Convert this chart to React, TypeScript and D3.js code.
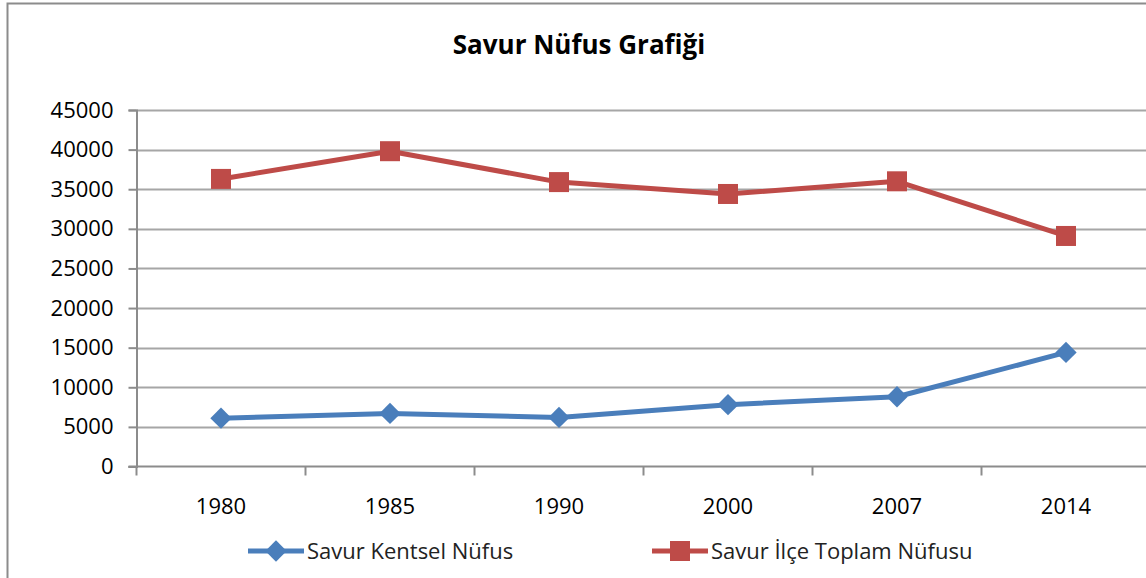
import React, { useEffect, useRef } from 'react';
import * as d3 from 'd3';

const YEARS = ['1980', '1985', '1990', '2000', '2007', '2014'];
const KENTSEL = [6100, 6700, 6200, 7800, 8800, 14400];
const ILCE_TOPLAM = [36300, 39800, 35900, 34400, 36000, 29100];
const Y_TICKS = [0, 5000, 10000, 15000, 20000, 25000, 30000, 35000, 40000, 45000];

const SERIES = [
  { name: 'Savur Kentsel Nüfus', values: KENTSEL, color: '#4a7ebb', marker: 'diamond' },
  { name: 'Savur İlçe Toplam Nüfusu', values: ILCE_TOPLAM, color: '#be4b48', marker: 'square' },
];

const FONT = '"Open Sans", "Liberation Sans", sans-serif';

const App: React.FC = () => {
  const svgRef = useRef<SVGSVGElement | null>(null);

  useEffect(() => {
    if (!svgRef.current) return;
    const width = 1146;
    const height = 578;

    const svg = d3.select(svgRef.current);
    svg.selectAll('*').remove();
    svg.attr('width', width).attr('height', height);

    // outer chart border (cropped at right / bottom like the original)
    svg.append('rect')
      .attr('x', 7.5).attr('y', 3.5)
      .attr('width', width + 20).attr('height', height + 20)
      .attr('fill', '#fff')
      .attr('stroke', '#8c8c8c')
      .attr('stroke-width', 2);

    const left = 136.5;
    const bandW = 169;
    const x = d3.scaleBand<string>().domain(YEARS).range([left, left + bandW * YEARS.length]);
    const y = d3.scaleLinear().domain([0, 45000]).range([466.5, 110]);

    // gridlines
    svg.append('g').selectAll('line')
      .data(Y_TICKS.filter(t => t > 0))
      .enter().append('line')
      .attr('x1', left).attr('x2', width)
      .attr('y1', d => Math.round(y(d)) + 0.5).attr('y2', d => Math.round(y(d)) + 0.5)
      .attr('stroke', '#a6a6a6').attr('stroke-width', 2);

    // y axis
    const yAxis = svg.append('g').attr('transform', `translate(${left},0)`)
      .call(d3.axisLeft(y).tickValues(Y_TICKS).tickSize(8).tickPadding(15).tickFormat(d3.format('d')));
    yAxis.select('.domain').attr('stroke', '#8c8c8c').attr('stroke-width', 2);
    yAxis.selectAll('.tick line').attr('stroke', '#8c8c8c').attr('stroke-width', 2);
    yAxis.selectAll('.tick text')
      .attr('font-family', FONT).attr('font-size', 22).attr('fill', '#000');

    // x axis
    const xAxisY = y(0);
    svg.append('line')
      .attr('x1', left - 8).attr('x2', width)
      .attr('y1', xAxisY).attr('y2', xAxisY)
      .attr('stroke', '#8c8c8c').attr('stroke-width', 2);
    svg.append('g').selectAll('line')
      .data(YEARS)
      .enter().append('line')
      .attr('x1', d => (x(d) as number)).attr('x2', d => (x(d) as number))
      .attr('y1', xAxisY).attr('y2', xAxisY + 9)
      .attr('stroke', '#8c8c8c').attr('stroke-width', 2);
    svg.append('g').selectAll('text')
      .data(YEARS)
      .enter().append('text')
      .attr('x', d => (x(d) as number) + x.bandwidth() / 2)
      .attr('y', 506)
      .attr('dy', '0.35em')
      .attr('text-anchor', 'middle')
      .attr('font-family', FONT).attr('font-size', 22).attr('fill', '#000')
      .text(d => d);

    const diamond = d3.symbol().type(d3.symbolDiamond2 ?? d3.symbolSquare2).size(290);

    const drawMarker = (g: d3.Selection<SVGGElement, unknown, null, undefined>, kind: string, cx: number, cy: number, color: string) => {
      if (kind === 'square') {
        g.append('rect')
          .attr('x', cx - 10).attr('y', cy - 10)
          .attr('width', 20).attr('height', 20)
          .attr('fill', color);
      } else {
        g.append('path')
          .attr('d', diamond() as string)
          .attr('transform', `translate(${cx},${cy})`)
          .attr('fill', color);
      }
    };

    const line = d3.line<number>()
      .x((_, i) => (x(YEARS[i]) as number) + x.bandwidth() / 2)
      .y(d => y(d));

    SERIES.forEach(s => {
      const g = svg.append('g');
      g.append('path')
        .attr('d', line(s.values) as string)
        .attr('fill', 'none')
        .attr('stroke', s.color)
        .attr('stroke-width', 5)
        .attr('stroke-linejoin', 'round');
      s.values.forEach((v, i) => {
        drawMarker(g as any, s.marker, (x(YEARS[i]) as number) + x.bandwidth() / 2, y(v), s.color);
      });
    });

    // title
    svg.append('text')
      .attr('x', 579).attr('y', 45)
      .attr('dy', '0.35em')
      .attr('text-anchor', 'middle')
      .attr('font-family', FONT).attr('font-weight', 'bold').attr('font-size', 26).attr('fill', '#000')
      .text('Savur Nüfus Grafiği');

    // legend
    const legendPos = [248, 652];
    SERIES.forEach((s, i) => {
      const g = svg.append('g');
      const lx = legendPos[i];
      const ly = 551;
      g.append('line')
        .attr('x1', lx).attr('x2', lx + 56)
        .attr('y1', ly).attr('y2', ly)
        .attr('stroke', s.color).attr('stroke-width', 5);
      drawMarker(g as any, s.marker, lx + 28, ly, s.color);
      g.append('text')
        .attr('x', lx + 59).attr('y', ly)
        .attr('dy', '0.35em')
        .attr('font-family', FONT).attr('font-size', 22).attr('fill', '#222')
        .text(s.name);
    });
  }, []);

  return (
    <div style={{ position: 'absolute', top: 0, left: 0 }}>
      <svg ref={svgRef} style={{ display: 'block' }}></svg>
    </div>
  );
};

export default App;
